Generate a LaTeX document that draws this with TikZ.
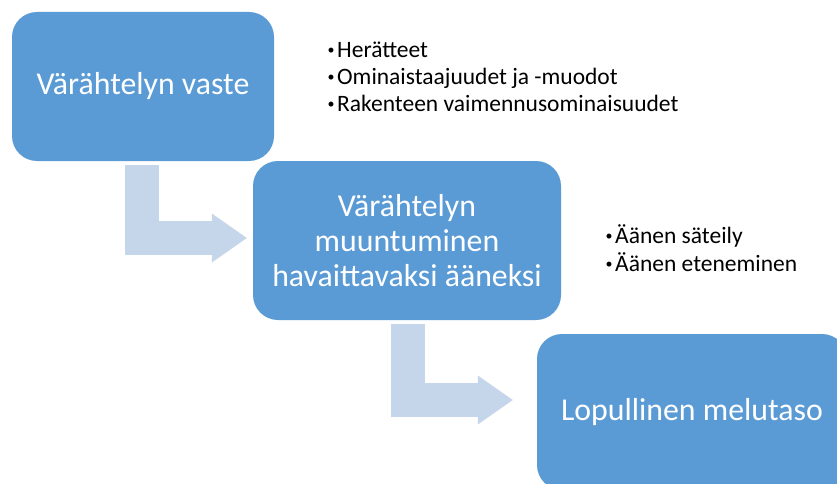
\documentclass[tikz,border=0pt]{standalone}
\usepackage{fontspec}
\setmainfont{Carlito}
\usetikzlibrary{arrows.meta,calc}
\definecolor{boxblue}{HTML}{5B9BD5}
\definecolor{arrowblue}{HTML}{C5D5EA}
\newcommand\mybul{\raisebox{2.6pt}{\fontsize{14}{14}\selectfont •}\hspace{2.5pt}}
\tikzset{
  box/.style={fill=boxblue, rounded corners=25pt, inner sep=0pt, text=white,
    font=\fontsize{31.8}{35}\selectfont, align=center},
  bendarrow/.style={draw=arrowblue, line width=34pt, line join=miter,
    -{Triangle[length=35pt,width=49pt,line width=0pt]}},
  item/.style={anchor=base west, inner sep=0pt, font=\fontsize{23.5}{27}\selectfont}
}
\begin{document}
\begin{tikzpicture}[x=1pt,y=-1pt]
\clip (0,0) rectangle (837,484);
\fill[white] (0,0) rectangle (837,484);
\node[box, minimum width=262pt, minimum height=149pt] (b1) at (143,86.5) {Värähtelyn vaste};
\node[box, minimum width=308pt, minimum height=159pt] (b2) at (407,240.5) {Värähtelyn\\muuntuminen\\havaittavaksi ääneksi};
\node[box, minimum width=310pt, minimum height=156pt] (b3) at (692,412) {Lopullinen melutaso};
\draw[bendarrow] ($(b1.south)+(-1.5,4)$) |- ($(b2.west)+(-6,-2.5)$);
\draw[bendarrow] ($(b2.south)+(0.5,4)$) |- ($(b3.west)+(-24,-12)$);
\node[item] (i1) at (327.5,57.5) {\mybul Herätteet};
\node[item] (i2) at (327.5,84.5) {\mybul Ominaistaajuudet ja -muodot};
\node[item] (i3) at (327.5,111.5) {\mybul Rakenteen vaimennusominaisuudet};
\node[item] (i4) at (605.5,243) {\mybul Äänen säteily};
\node[item] (i5) at (605.5,271) {\mybul Äänen eteneminen};
\end{tikzpicture}
\end{document}
